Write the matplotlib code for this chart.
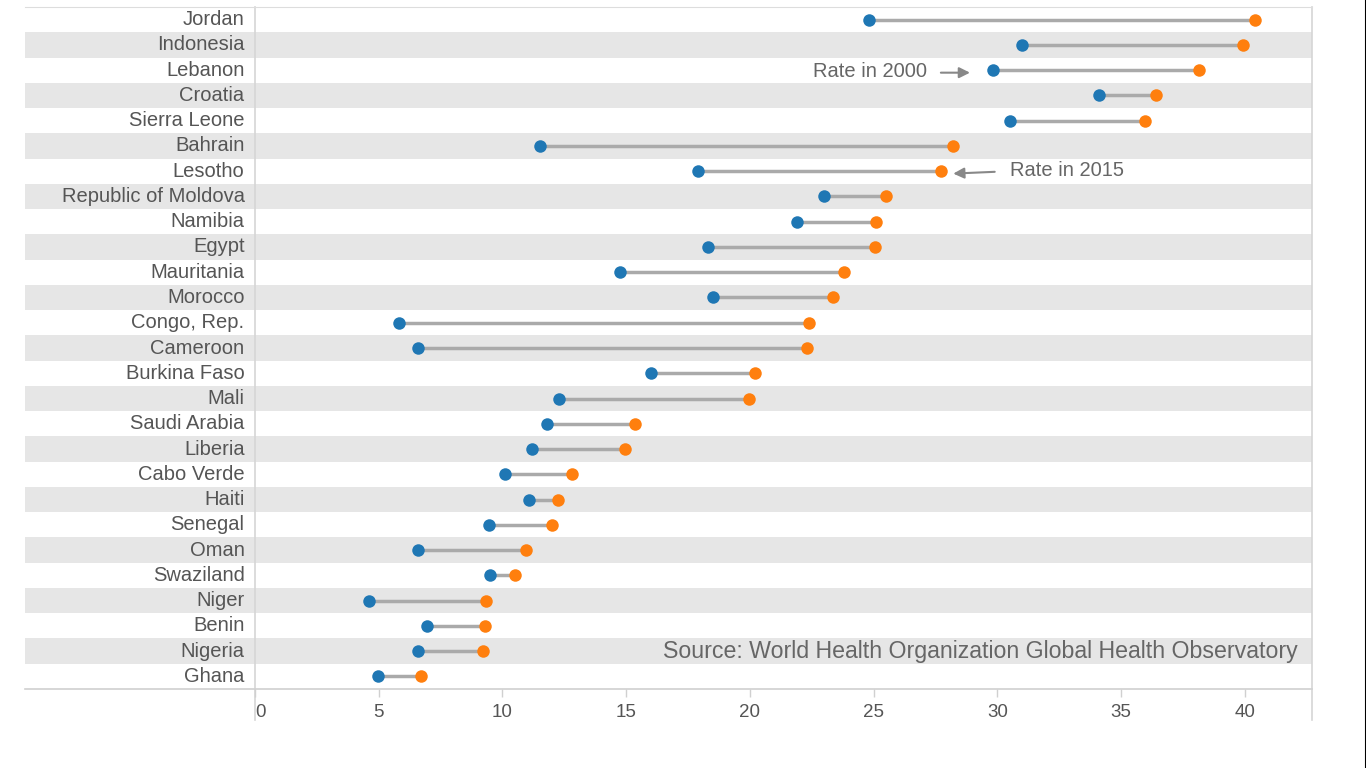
import matplotlib
matplotlib.use('Agg')
import matplotlib.pyplot as plt
from matplotlib.lines import Line2D

plt.rcParams['font.family'] = ['Liberation Sans', 'DejaVu Sans']

# data
countries = ['Jordan', 'Indonesia', 'Lebanon', 'Croatia', 'Sierra Leone', 'Bahrain',
             'Lesotho', 'Republic of Moldova', 'Namibia', 'Egypt', 'Mauritania',
             'Morocco', 'Congo, Rep.', 'Cameroon', 'Burkina Faso', 'Mali',
             'Saudi Arabia', 'Liberia', 'Cabo Verde', 'Haiti', 'Senegal', 'Oman',
             'Swaziland', 'Niger', 'Benin', 'Nigeria', 'Ghana']
rate_2000 = [24.8, 31.0, 29.8, 34.1, 30.5, 11.5, 17.9, 23.0, 21.9, 18.3, 14.75,
             18.5, 5.8, 6.6, 16.0, 12.3, 11.8, 11.2, 10.1, 11.07, 9.45, 6.6,
             9.5, 4.6, 6.95, 6.6, 4.98]
rate_2015 = [40.4, 39.9, 38.15, 36.4, 35.95, 28.2, 27.7, 25.5, 25.1, 25.05, 23.8,
             23.35, 22.4, 22.3, 20.2, 19.95, 15.35, 14.95, 12.8, 12.25, 12.0, 10.95,
             10.5, 9.35, 9.3, 9.2, 6.7]
xticks = [0, 5, 10, 15, 20, 25, 30, 35, 40]

W, H = 1366, 768
fig = plt.figure(figsize=(W / 100, H / 100), dpi=100)
ax = fig.add_axes([25 / W, (H - 689) / H, (1312 - 25) / W, (689 - 7) / H])

px = 24.75  # pixels per unit
ax.set_xlim((25 - 255) / px, (1312 - 255) / px)
n = len(countries)
ax.set_ylim(n - 0.5, -0.5)

# stripes
for i in range(n):
    if i % 2 == 1:
        ax.axhspan(i - 0.5, i + 0.5, color='#e6e6e6', lw=0, zorder=0)

# dumbbells
for i in range(n):
    ax.plot([rate_2000[i], rate_2015[i]], [i, i], color='#aaaaaa', lw=2.5,
            solid_capstyle='butt', zorder=2)
ax.plot(rate_2000, range(n), 'o', color='#1f77b4', ms=9, mec='none', zorder=3)
ax.plot(rate_2015, range(n), 'o', color='#ff7f0e', ms=9, mec='none', zorder=3)

# row labels
for i, c in enumerate(countries):
    ax.text(-0.42, i, c, ha='right', va='center', fontsize=14.5, color='#555555')

# axis line at zero, extends into tick label area
ax.plot([0, 0], [-0.5, n + 0.73], color='#d6d6d6', lw=1.2, clip_on=False, zorder=1)
xr = (1312 - 255) / px
ax.plot([xr, xr], [-0.5, n + 0.73], color='#d6d6d6', lw=1.2, clip_on=False, zorder=1)

for s in ['left', 'right']:
    ax.spines[s].set_visible(False)
ax.spines['top'].set_color('#dddddd')
ax.spines['bottom'].set_color('#d0d0d0')
ax.spines['bottom'].set_linewidth(1.2)

ax.set_yticks([])
ax.set_xticks(xticks)
ax.set_xticklabels([str(t) for t in xticks])
ax.tick_params(axis='x', length=6, width=1, color='#d0d0d0', pad=5,
               labelsize=13.5, labelcolor='#555555')
ax.get_xticklabels()[0].set_ha('left')

# annotations
ax.text(27.15, 2.05, 'Rate in 2000', ha='right', va='center', fontsize=14.5, color='#666666')
ax.annotate('', xy=(29.0, 2.1), xytext=(27.6, 2.1),
            arrowprops=dict(arrowstyle='-|>', color='#888888', lw=1.5, mutation_scale=16))
ax.text(30.5, 5.98, 'Rate in 2015', ha='left', va='center', fontsize=14.5, color='#666666')
ax.annotate('', xy=(28.1, 6.1), xytext=(30.0, 6.02),
            arrowprops=dict(arrowstyle='-|>', color='#888888', lw=1.5, mutation_scale=16))

ax.text(42.14, 25, 'Source: World Health Organization Global Health Observatory',
        ha='right', va='center', fontsize=16.7, color='#666666')

# image edge on the right
fig.add_artist(Line2D([1365.5 / W, 1365.5 / W], [0, 1], color='black', lw=1.5))

fig.savefig('out.png', dpi=100, facecolor='white')
